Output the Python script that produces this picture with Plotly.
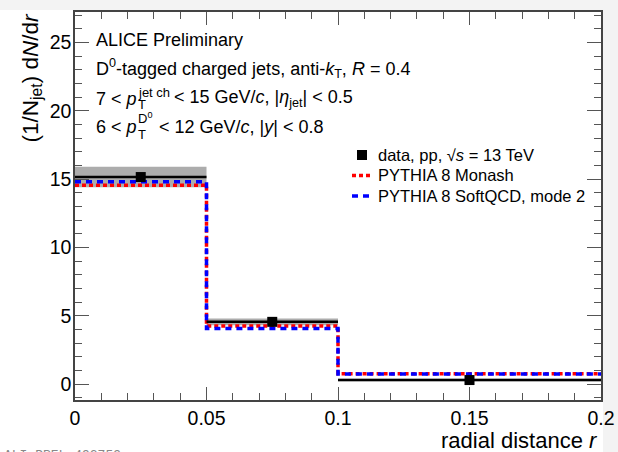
import plotly.graph_objects as go

# ---- data ----
bin_edges = [0.0, 0.05, 0.1, 0.2]
bin_centers = [0.025, 0.075, 0.15]
bin_halfwidths = [0.025, 0.025, 0.05]
data_values = [15.15, 4.55, 0.29]
data_sys_low = [14.4, 4.3, 0.2]
data_sys_high = [15.9, 4.8, 0.38]
monash_values = [14.55, 4.25, 0.76]
softqcd_values = [14.8, 4.07, 0.74]

x_tickvals = [0, 0.05, 0.1, 0.15, 0.2]
x_ticktext = ["0", "0.05", "0.1", "0.15", "0.2"]
y_tickvals = [0, 5, 10, 15, 20, 25]
y_ticktext = ["0", "5", "10", "15", "20", "25"]

legend_labels = ["data, pp, √<i>s</i> = 13 TeV", "PYTHIA 8 Monash", "PYTHIA 8 SoftQCD, mode 2"]

W, H = 618, 452
L, R, T, B = 75, 17, 12, 52
pw, ph = W - L - R, H - T - B

def px(xp):
    return (xp - L) / pw

def py(yp):
    return (H - B - yp) / ph

FONT = "Liberation Sans, Arial, sans-serif"
RED_DASH = "4px,3px"
BLUE_DASH = "6px,5px"

fig = go.Figure()

# systematic band
fig.add_trace(go.Bar(
    x=bin_centers,
    y=[h - l for h, l in zip(data_sys_high, data_sys_low)],
    base=data_sys_low,
    width=[2 * w for w in bin_halfwidths],
    marker=dict(color="#acacac", line=dict(width=0)),
    showlegend=False, hoverinfo="skip",
))

# step histograms
def step(values):
    return bin_edges, list(values) + [values[-1]]

sx, sy = step(monash_values)
fig.add_trace(go.Scatter(
    x=sx, y=sy, mode="lines", line_shape="hv",
    line=dict(color="#ff0000", width=3.5, dash=RED_DASH),
    name=legend_labels[1], showlegend=False,
))
sx, sy = step(softqcd_values)
fig.add_trace(go.Scatter(
    x=sx, y=sy, mode="lines", line_shape="hv",
    line=dict(color="#0000ff", width=3.5, dash=BLUE_DASH),
    name=legend_labels[2], showlegend=False,
))

# data
fig.add_trace(go.Scatter(
    x=bin_centers, y=data_values, mode="markers",
    marker=dict(symbol="square", size=10, color="black"),
    error_x=dict(type="data", array=bin_halfwidths, width=0, thickness=2.5, color="black"),
    name=legend_labels[0], showlegend=False,
))

axis_common = dict(
    showline=True, linecolor="#444444", linewidth=1.5, mirror="allticks",
    ticks="inside", tickcolor="#555555", tickwidth=1.2,
    showgrid=False, zeroline=False, automargin=False,
    tickfont=dict(family=FONT, size=19.5, color="black"),
)

fig.update_xaxes(
    range=[0, 0.2], tickvals=x_tickvals, ticktext=x_ticktext, ticklen=13,
    minor=dict(ticks="inside", dtick=0.01, ticklen=7, tickcolor="#555555", tickwidth=1.2, showgrid=False),
    **axis_common,
)
fig.update_yaxes(
    range=[-1.17, 27.23], tickvals=y_tickvals, ticktext=y_ticktext, ticklen=14,
    minor=dict(ticks="inside", dtick=1, ticklen=7, tickcolor="#555555", tickwidth=1.2, showgrid=False),
    ticklabelstandoff=-2,
    **axis_common,
)

ann = []
shapes = []

def text(t, x, yc, size=18, anchor="left", **kw):
    ann.append(dict(text=t, xref="paper", yref="paper", x=px(x), y=py(yc),
                    xanchor=anchor, yanchor="middle", showarrow=False,
                    font=dict(family=FONT, size=size, color="black"), **kw))

text("ALICE Preliminary", 94, 40)
text("D<sup>0</sup>-tagged charged jets, anti-<i>k</i><sub>T</sub>, <i>R</i> = 0.4", 94, 68)
# line 3 with stacked sub/superscript
text("7 &lt; <i>p</i>", 94, 98.5)
text("jet ch", 136, 92, size=13)
text("T", 135.5, 104.5, size=13)
text("&lt; 15 GeV/<i>c</i>, |<i>η</i><sub>jet</sub>| &lt; 0.5", 172, 98.5)
# line 4
text("6 &lt; <i>p</i>", 94, 127)
text("D<sup>0</sup>", 136, 117.5, size=13)
text("T", 135.5, 134.5, size=13)
text("&lt; 12 GeV/<i>c</i>, |<i>y</i>| &lt; 0.8", 157, 127)

# axis titles
ann.append(dict(text="(1/N<sub>jet</sub>) d<i>N</i>/d<i>r</i>", xref="paper", yref="paper",
                x=px(31), y=py(12), xanchor="center", yanchor="top", textangle=-90,
                showarrow=False, font=dict(family=FONT, size=22.5, color="black")))
text("radial distance <i>r</i>", 600, 440, size=22, anchor="right")
ann.append(dict(text="ALI-PREL-492759", xref="paper", yref="paper",
                x=px(2), y=py(446), xanchor="left", yanchor="top",
                showarrow=False, font=dict(family="Liberation Mono, Courier New, monospace", size=13, color="#888888")))

# manual legend
leg_rows = [155, 175.5, 196]
for lab, yc in zip(legend_labels, leg_rows):
    text(lab, 376, yc, size=16.5)
shapes.append(dict(type="rect", xref="paper", yref="paper",
                   x0=px(357), x1=px(367), y0=py(leg_rows[0] + 5), y1=py(leg_rows[0] - 5),
                   fillcolor="black", line=dict(width=0)))
shapes.append(dict(type="line", xref="paper", yref="paper",
                   x0=px(352), x1=px(373), y0=py(leg_rows[1]), y1=py(leg_rows[1]),
                   line=dict(color="#ff0000", width=3.5, dash=RED_DASH)))
shapes.append(dict(type="line", xref="paper", yref="paper",
                   x0=px(352), x1=px(373), y0=py(leg_rows[2]), y1=py(leg_rows[2]),
                   line=dict(color="#0000ff", width=3.5, dash=BLUE_DASH)))

# white canvas area on light grey page
shapes.append(dict(type="rect", xref="paper", yref="paper", x0=px(0), x1=px(603),
                   y0=py(452), y1=py(10), fillcolor="white", line=dict(width=0), layer="below"))

fig.update_layout(
    template="none",
    width=W, height=H,
    margin=dict(l=L, r=R, t=T, b=B, pad=0, autoexpand=False),
    paper_bgcolor="#f3f3f3", plot_bgcolor="white",
    barmode="overlay",
    annotations=ann,
    shapes=shapes,
    showlegend=False,
)

fig.write_html("out.html")
